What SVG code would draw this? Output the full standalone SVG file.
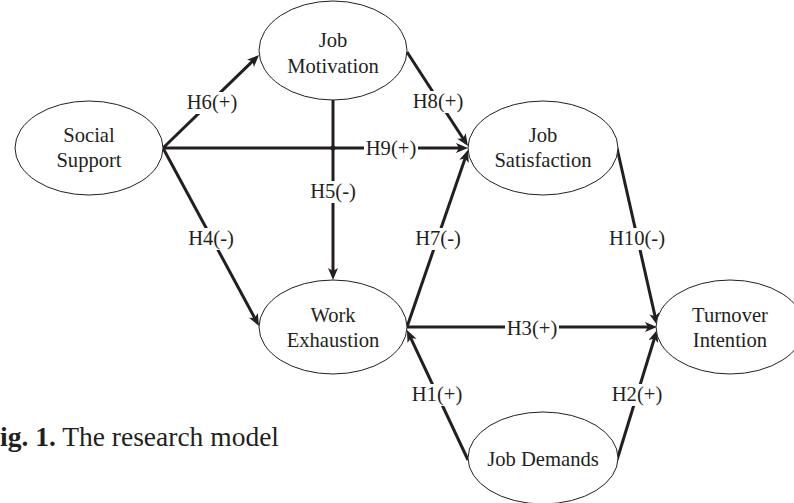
<svg xmlns="http://www.w3.org/2000/svg" width="794" height="503" viewBox="0 0 794 503">
<defs>
<style>
.node ellipse{fill:#fff;stroke:#231f20;stroke-width:1}
.node text{font-family:"Liberation Serif","Times New Roman",serif;font-size:20.6px;fill:#231f20;text-anchor:middle}
.conn line{stroke:#231f20;stroke-width:3;fill:none}
.lbl rect{fill:#fff;stroke:none}
.lbl text{font-family:"Liberation Serif","Times New Roman",serif;font-size:20.6px;fill:#231f20;text-anchor:middle}
.cap{font-family:"Liberation Serif","Times New Roman",serif;font-size:27.5px;fill:#231f20}
</style>
<marker id="arr" markerUnits="userSpaceOnUse" markerWidth="14" markerHeight="12" viewBox="0 0 14 12" refX="6" refY="5" orient="auto">
<path d="M0,0 L12,5 L0,10 L3,5 Z" fill="#231f20"/>
</marker>
</defs>
<rect width="794" height="503" fill="#fff"/>

<g id="connectors" class="conn">
<line x1="163" y1="148" x2="254.7" y2="59.2" marker-end="url(#arr)"/>
<line x1="163" y1="148" x2="462" y2="148" marker-end="url(#arr)"/>
<line x1="163" y1="148" x2="256.2" y2="320.7" marker-end="url(#arr)"/>
<line x1="333" y1="100" x2="333" y2="274" marker-end="url(#arr)"/>
<line x1="407" y1="52" x2="464.7" y2="141" marker-end="url(#arr)"/>
<line x1="407" y1="327" x2="466" y2="155.7" marker-end="url(#arr)"/>
<line x1="617" y1="148" x2="655.7" y2="319.2" marker-end="url(#arr)"/>
<line x1="407" y1="327" x2="651" y2="327" marker-end="url(#arr)"/>
<line x1="468" y1="460" x2="409.5" y2="335.4" marker-end="url(#arr)"/>
<line x1="617" y1="460" x2="655.2" y2="335.7" marker-end="url(#arr)"/>
<circle cx="333" cy="148" r="2.5" fill="#231f20"/>
<g class="lbl">
<rect x="185" y="92" width="54" height="22"/><text x="212" y="109">H6(+)</text>
<rect x="364" y="138" width="54" height="22"/><text x="391" y="155">H9(+)</text>
<rect x="187" y="228" width="48" height="22"/><text x="211" y="245">H4(-)</text>
<rect x="309" y="181" width="48" height="22"/><text x="333" y="198">H5(-)</text>
<rect x="411" y="91" width="54" height="22"/><text x="438" y="108">H8(+)</text>
<rect x="414" y="228" width="48" height="22"/><text x="438" y="245">H7(-)</text>
<rect x="608" y="228" width="59" height="22"/><text x="637" y="245">H10(-)</text>
<rect x="505" y="318" width="54" height="22"/><text x="532" y="335">H3(+)</text>
<rect x="410" y="384" width="54" height="22"/><text x="437" y="401">H1(+)</text>
<rect x="610" y="384" width="54" height="22"/><text x="637" y="401">H2(+)</text>
</g>
</g>

<g id="social-support" class="node">
<ellipse cx="89" cy="148" rx="74" ry="47"/>
<text x="89" y="142">Social</text>
<text x="89" y="167">Support</text>
</g>
<g id="job-motivation" class="node">
<ellipse cx="333" cy="50.5" rx="74" ry="49.5"/>
<text x="333" y="47">Job</text>
<text x="333" y="73">Motivation</text>
</g>
<g id="job-satisfaction" class="node">
<ellipse cx="543" cy="148" rx="75" ry="47"/>
<text x="543" y="142">Job</text>
<text x="543" y="167">Satisfaction</text>
</g>
<g id="work-exhaustion" class="node">
<ellipse cx="333" cy="327" rx="74" ry="47"/>
<text x="333" y="322">Work</text>
<text x="333" y="347">Exhaustion</text>
</g>
<g id="turnover-intention" class="node">
<ellipse cx="730" cy="327" rx="74" ry="47"/>
<text x="730" y="322">Turnover</text>
<text x="730" y="347">Intention</text>
</g>
<g id="job-demands" class="node">
<ellipse cx="543" cy="458" rx="75" ry="46"/>
<text x="543" y="466">Job Demands</text>
</g>

<text class="cap" x="0" y="446"><tspan font-weight="bold">ig. 1.</tspan> The research model</text>
</svg>
